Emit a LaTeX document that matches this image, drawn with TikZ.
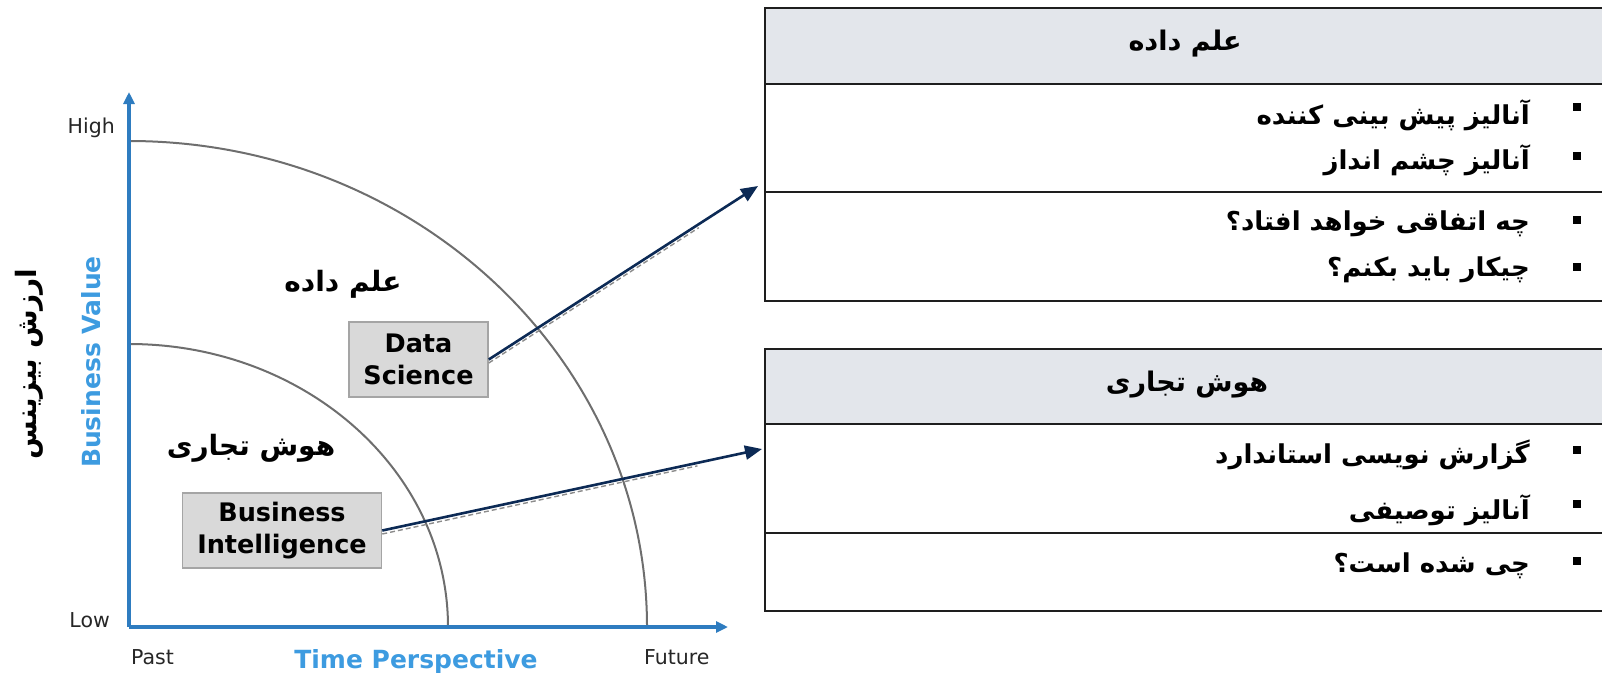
\documentclass[tikz,border=0pt]{standalone}
\usepackage{fontspec}
\setmainfont{DejaVu Sans}
\newfontfamily\fa[Script=Arabic]{DejaVu Sans}
\TeXXeTstate=1
\usetikzlibrary{arrows.meta,calc}

\definecolor{axisblue}{HTML}{2E7CC0}
\definecolor{labelblue}{HTML}{3D9BE0}
\definecolor{arcgray}{HTML}{6E6E6E}
\definecolor{boxfill}{HTML}{D9D9D9}
\definecolor{boxline}{HTML}{A5A5A5}
\definecolor{navy}{HTML}{0C2A55}
\definecolor{headfill}{HTML}{E3E6EB}
\definecolor{rule}{HTML}{1E1E1E}
\definecolor{shadowgray}{HTML}{8C8C8C}

% right-to-left Persian run
\newcommand{\fatx}[1]{{\fa\beginR #1\endR}}
\newcommand{\fsz}[1]{\fontsize{#1}{1.23\dimexpr#1pt\relax}\selectfont}

\tikzset{
  axisline/.style={draw=axisblue, line width=3.2, -{Triangle[length=12,width=11]}},
  ringarc/.style={draw=arcgray, line width=2},
  conceptbox/.style={draw=boxline, fill=boxfill, line width=1.5, align=center,
    font=\bfseries\fsz{25.5}, inner sep=0pt},
  link/.style={draw=navy, line width=2.6, -{Triangle[length=17,width=14]}},
  linkshadow/.style={draw=shadowgray, line width=1.4, dash pattern=on 5 off 3},
  tick/.style={font=\fsz{20.5}, text=black!85, inner sep=0pt},
  headcell/.style={draw=rule, fill=headfill, line width=2.4, inner sep=0pt,
    outer sep=0pt, anchor=north west, minimum width=850},
  bodycell/.style={draw=rule, line width=2.4, inner sep=0pt, outer sep=0pt,
    anchor=north west, minimum width=850},
  headtext/.style={font=\fsz{27}, inner sep=0pt},
  itemtext/.style={font=\fsz{26}, inner sep=0pt, anchor=east},
  bulletmark/.style={fill=black, minimum size=8, inner sep=0pt},
}

\begin{document}
\begin{tikzpicture}[x=1pt,y=-1pt]
\useasboundingbox (0,0) rectangle (1602,672);
\clip (0,0) rectangle (1602,672);

% ---------- chart ----------
\coordinate (O) at (129,627);
\coordinate (ytip) at (129,92);
\coordinate (xtip) at (728,627);

\draw[ringarc] (129,141) arc[start angle=-90, end angle=0, x radius=518, y radius=486];
\draw[ringarc] (129,344) arc[start angle=-90, end angle=0, x radius=319, y radius=283];

\draw[axisline] (O) -- (ytip);
\draw[axisline] (O) -- (xtip);

\node[tick, anchor=base east] (high) at (115,133) {High};
\node[tick, anchor=base east] (low) at (110,627) {Low};
\node[tick, anchor=base west] (past) at (131,664) {Past};
\node[tick, anchor=base west] (future) at (644,664) {Future};
\node[font=\bfseries\fsz{25}, text=labelblue, anchor=base, inner sep=0pt] (tp) at (416,668) {Time Perspective};
\node[font=\bfseries\fsz{25}, text=labelblue, rotate=90, inner sep=0pt] (bv) at (91,362) {Business Value};
\node[font=\bfseries\fsz{28}, rotate=90, inner sep=0pt] (bvfa) at (29,364) {\fatx{ارزش بیزینس}};

\node[font=\bfseries\fsz{28}, inner sep=0pt] (dslabel) at (343,284) {\fatx{علم داده}};
\node[font=\bfseries\fsz{28}, inner sep=0pt] (bilabel) at (251,448) {\fatx{هوش تجاری}};

\node[conceptbox, minimum width=139, minimum height=75] (ds) at (418.5,359.5) {Data\\Science};
\node[conceptbox, minimum width=199, minimum height=75] (bi) at (282,530.5) {Business\\Intelligence};

% ---------- tables ----------
\node[headcell, minimum height=76] (h1) at (765,8) {};
\node[headtext] (h1t) at (1185,44) {\bfseries\fatx{علم داده}};
\node[bodycell, minimum height=108] (r1a) at (h1.south west) {};
\node[bodycell, minimum height=109] (r1b) at (r1a.south west) {};

\node[headcell, minimum height=75] (h2) at (765,349) {};
\node[headtext] (h2t) at (1187,385) {\bfseries\fatx{هوش تجاری}};
\node[bodycell, minimum height=109] (r2a) at (h2.south west) {};
\node[bodycell, minimum height=78] (r2b) at (r2a.south west) {};

\node[itemtext] (i1) at (1530,115) {\bfseries\fatx{آنالیز پیش بینی کننده}};
\node[itemtext] (i2) at (1530,160) {\bfseries\fatx{آنالیز چشم انداز}};
\node[itemtext] (i3) at (1530,224) {\bfseries\fatx{چه اتفاقی خواهد افتاد؟}};
\node[itemtext] (i4) at (1530,270) {\bfseries\fatx{چیکار باید بکنم؟}};
\node[itemtext] (i5) at (1530,455) {\bfseries\fatx{گزارش نویسی استاندارد}};
\node[itemtext] (i6) at (1530,510) {\bfseries\fatx{آنالیز توصیفی}};
\node[itemtext] (i7) at (1530,566) {\bfseries\fatx{چی شده است؟}};

\foreach \y/\n in {107/b1,156/b2,220/b3,267/b4,450/b5,504/b6,561/b7}
  \node[bulletmark] (\n) at (1577,\y) {};

% ---------- connectors ----------
\coordinate (t1in) at (758,186);
\coordinate (t2in) at (762,449);

\draw[linkshadow] ($(ds.east)+(0,3.5)$) -- ($(ds.east)!0.78!(t1in)+(0,3.5)$);
\draw[linkshadow] ($(bi.east)+(0,3.5)$) -- ($(bi.east)!0.83!(t2in)+(0,3)$);
\draw[link] (ds.east) -- (t1in);
\draw[link] (bi.east) -- (t2in);
\end{tikzpicture}
\end{document}
